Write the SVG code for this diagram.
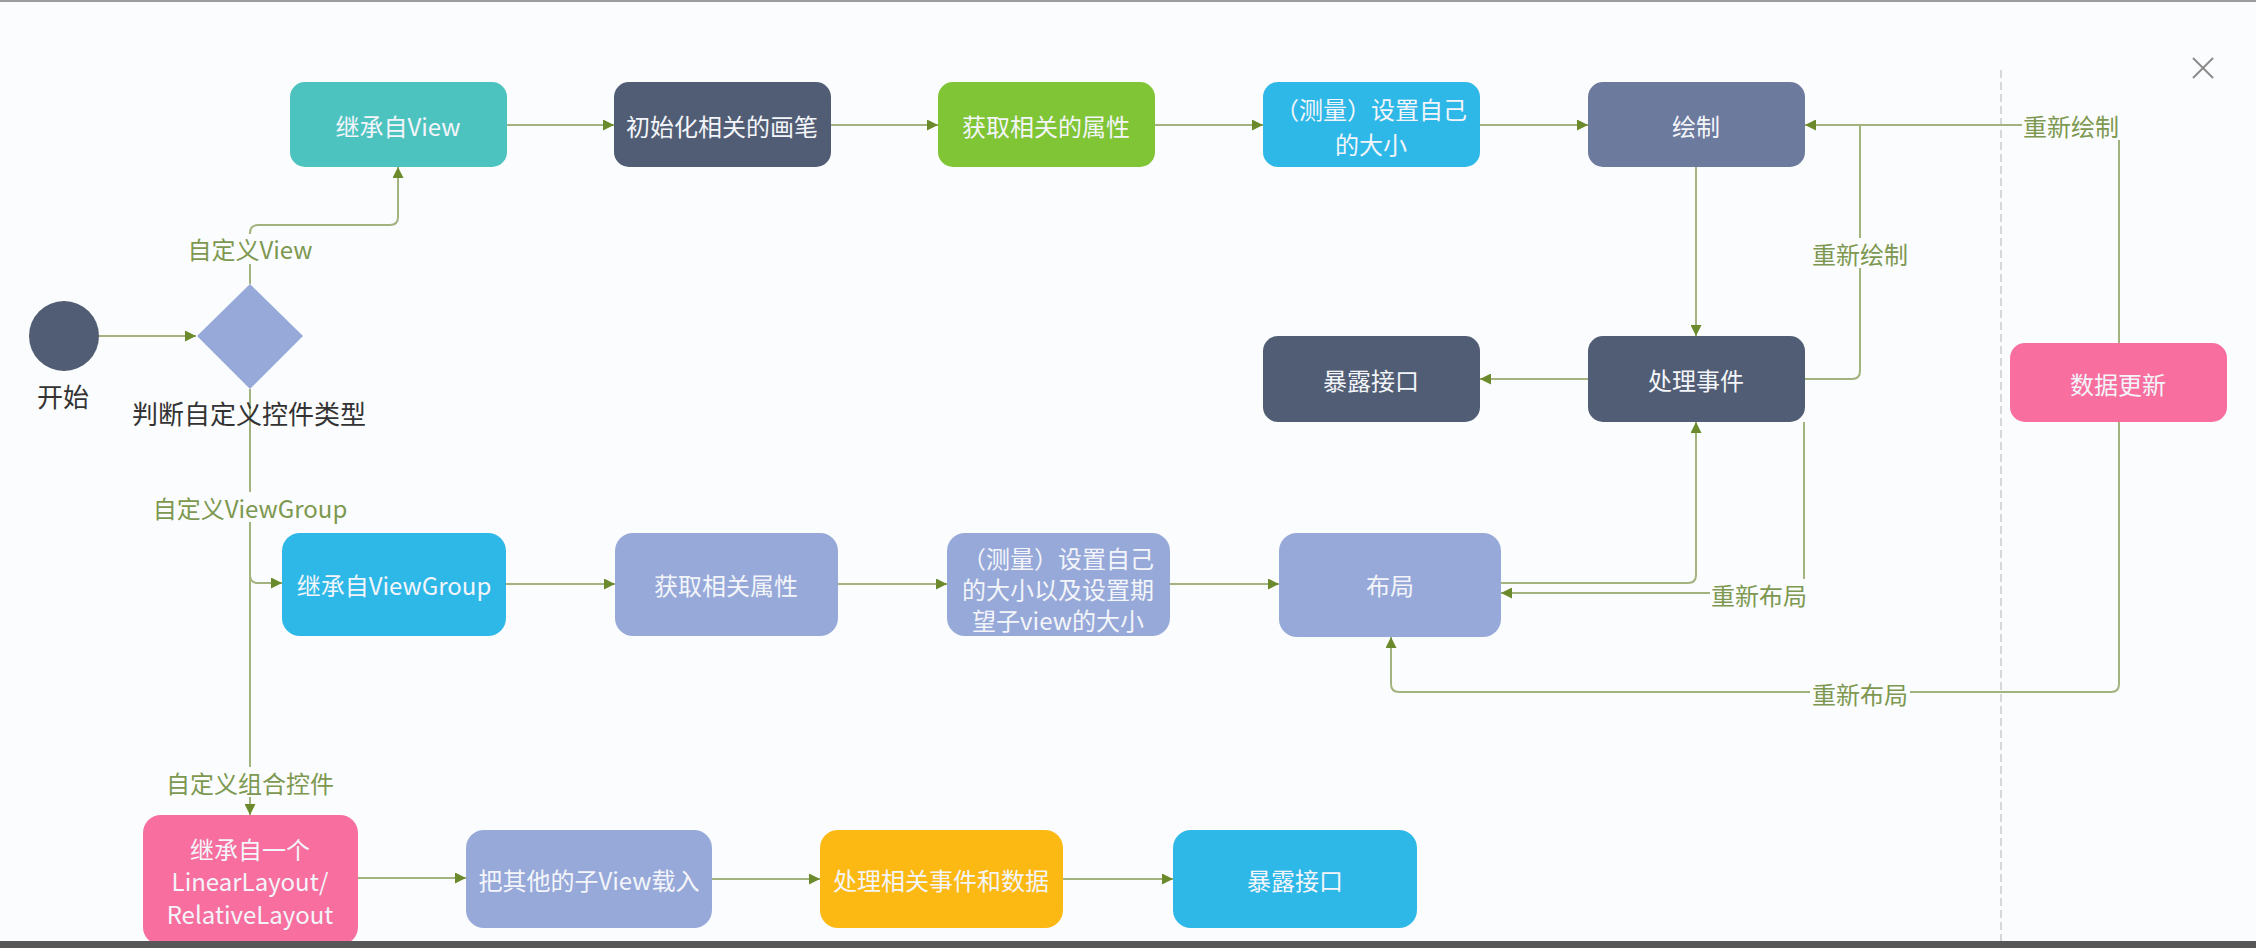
<svg xmlns="http://www.w3.org/2000/svg" width="2256" height="948" viewBox="0 0 2256 948">
<defs>
<marker id="arr" viewBox="0 0 10 10" refX="10" refY="5" markerWidth="11" markerHeight="11" markerUnits="userSpaceOnUse" orient="auto"><path d="M0,0 L10,5 L0,10 z" fill="#6b8a2c"/></marker>
<style>
.t{font-family:"Noto Sans CJK SC","Noto Sans",sans-serif;font-size:24px;fill:#f3f5fa;text-anchor:middle;dominant-baseline:central}
.k{font-family:"Noto Sans CJK SC","Noto Sans",sans-serif;font-size:26px;fill:#333;text-anchor:middle;dominant-baseline:central}
.l{font-family:"Noto Sans CJK SC","Noto Sans",sans-serif;font-size:24px;fill:#7d9850;text-anchor:middle;dominant-baseline:central}
.c{fill:none;stroke:#a3b37f;stroke-width:2}
.a{marker-end:url(#arr)}
.bg{fill:#fbfcfd}
.dark{fill:#515d74}
.peri{fill:#97a9d9}
.sky{fill:#2db8e8}
.pink{fill:#f76e9f}
</style>
</defs>
<rect x="0" y="0" width="2256" height="948" fill="#fbfcfd"/>
<rect x="0" y="0" width="2256" height="2" fill="#9c9c9c"/>
<line x1="2001" y1="70" x2="2001" y2="941" stroke="#c9cbd0" stroke-width="1.5" stroke-dasharray="8 4"/>
<g id="close" stroke="#8a8a8a" stroke-width="2"><line x1="2193" y1="58" x2="2213" y2="78"/><line x1="2213" y1="58" x2="2193" y2="78"/></g>

<g id="connectors">
<path class="c a" d="M99 336 H196"/>
<path class="c a" d="M250 284 V233 Q250 225 258 225 H390 Q398 225 398 217 V167"/>
<path class="c a" d="M507 125 H614"/>
<path class="c a" d="M831 125 H938"/>
<path class="c a" d="M1155 125 H1263"/>
<path class="c a" d="M1480 125 H1588"/>
<path class="c a" d="M1696 167 V336"/>
<path class="c a" d="M1588 379 H1480"/>
<path class="c" d="M1805 379 H1852 Q1860 379 1860 371 V125"/>
<path class="c a" d="M2119 343 V133 Q2119 125 2111 125 H1805"/>
<path class="c a" d="M250 389 V815"/>
<path class="c a" d="M250 575 Q250 583 258 583 H282"/>
<path class="c a" d="M506 584 H615"/>
<path class="c a" d="M838 584 H947"/>
<path class="c a" d="M1170 584 H1279"/>
<path class="c a" d="M1501 583 H1688 Q1696 583 1696 575 V422"/>
<path class="c a" d="M1804 422 V585 Q1804 593 1796 593 H1501"/>
<path class="c a" d="M2119 422 V684 Q2119 692 2111 692 H1399 Q1391 692 1391 684 V637"/>
<path class="c a" d="M358 878 H466"/>
<path class="c a" d="M712 879 H820"/>
<path class="c a" d="M1063 879 H1173"/>
<g id="labels">
<rect class="bg" x="180" y="234" width="140" height="30"/><text class="l" x="250" y="248">自定义View</text>
<rect class="bg" x="2022" y="110" width="98" height="30"/><text class="l" x="2071" y="125">重新绘制</text>
<rect class="bg" x="1810" y="238" width="100" height="30"/><text class="l" x="1860" y="253">重新绘制</text>
<rect class="bg" x="144" y="492" width="212" height="30"/><text class="l" x="250" y="507">自定义ViewGroup</text>
<rect class="bg" x="162" y="767" width="176" height="30"/><text class="l" x="250" y="782">自定义组合控件</text>
<rect class="bg" x="1710" y="579" width="98" height="30"/><text class="l" x="1759" y="594">重新布局</text>
<rect class="bg" x="1810" y="677" width="100" height="30"/><text class="l" x="1860" y="693">重新布局</text>
</g>
</g>

<g id="start"><circle cx="64" cy="336" r="35" class="dark"/><text class="k" x="63" y="395">开始</text></g>
<g id="decide"><polygon points="250,284 303,336 250,389 197,336" class="peri"/><text class="k" x="249" y="412">判断自定义控件类型</text></g>

<g id="n-extend-view"><rect x="290" y="82" width="217" height="85" rx="15" fill="#4dc3bf"/><text class="t" x="398" y="125">继承自View</text></g>
<g id="n-init-paint"><rect x="614" y="82" width="217" height="85" rx="15" class="dark"/><text class="t" x="722" y="125">初始化相关的画笔</text></g>
<g id="n-get-attr"><rect x="938" y="82" width="217" height="85" rx="15" fill="#80c535"/><text class="t" x="1046" y="125">获取相关的属性</text></g>
<g id="n-measure"><rect x="1263" y="82" width="217" height="85" rx="15" class="sky"/><text class="t" x="1371" y="108">（测量）设置自己</text><text class="t" x="1371" y="143">的大小</text></g>
<g id="n-draw"><rect x="1588" y="82" width="217" height="85" rx="15" fill="#6c7a9d"/><text class="t" x="1696" y="125">绘制</text></g>
<g id="n-expose-top"><rect x="1263" y="336" width="217" height="86" rx="15" class="dark"/><text class="t" x="1371" y="379">暴露接口</text></g>
<g id="n-event"><rect x="1588" y="336" width="217" height="86" rx="15" class="dark"/><text class="t" x="1696" y="379">处理事件</text></g>
<g id="n-data"><rect x="2010" y="343" width="217" height="79" rx="15" class="pink"/><text class="t" x="2118" y="383">数据更新</text></g>

<g id="n-extend-vg"><rect x="282" y="533" width="224" height="103" rx="18" class="sky"/><text class="t" x="394" y="584">继承自ViewGroup</text></g>
<g id="n-get-attr2"><rect x="615" y="533" width="223" height="103" rx="18" class="peri"/><text class="t" x="726" y="584">获取相关属性</text></g>
<g id="n-measure2"><rect x="947" y="533" width="223" height="103" rx="18" class="peri"/><text class="t" x="1058" y="557">（测量）设置自己</text><text class="t" x="1058" y="588">的大小以及设置期</text><text class="t" x="1058" y="619">望子view的大小</text></g>
<g id="n-layout"><rect x="1279" y="533" width="222" height="104" rx="18" class="peri"/><text class="t" x="1390" y="584">布局</text></g>

<g id="n-extend-one"><rect x="143" y="815" width="215" height="130" rx="18" class="pink"/><text class="t" x="250" y="848">继承自一个</text><text class="t" x="250" y="880">LinearLayout/</text><text class="t" x="250" y="913">RelativeLayout</text></g>
<g id="n-load"><rect x="466" y="830" width="246" height="98" rx="18" class="peri"/><text class="t" x="589" y="879">把其他的子View载入</text></g>
<g id="n-handle"><rect x="820" y="830" width="243" height="98" rx="18" fill="#fdb913"/><text class="t" x="941" y="879">处理相关事件和数据</text></g>
<g id="n-expose-bottom"><rect x="1173" y="830" width="244" height="98" rx="18" class="sky"/><text class="t" x="1295" y="879">暴露接口</text></g>

<rect x="0" y="941" width="2256" height="7" fill="#575757"/>
</svg>
